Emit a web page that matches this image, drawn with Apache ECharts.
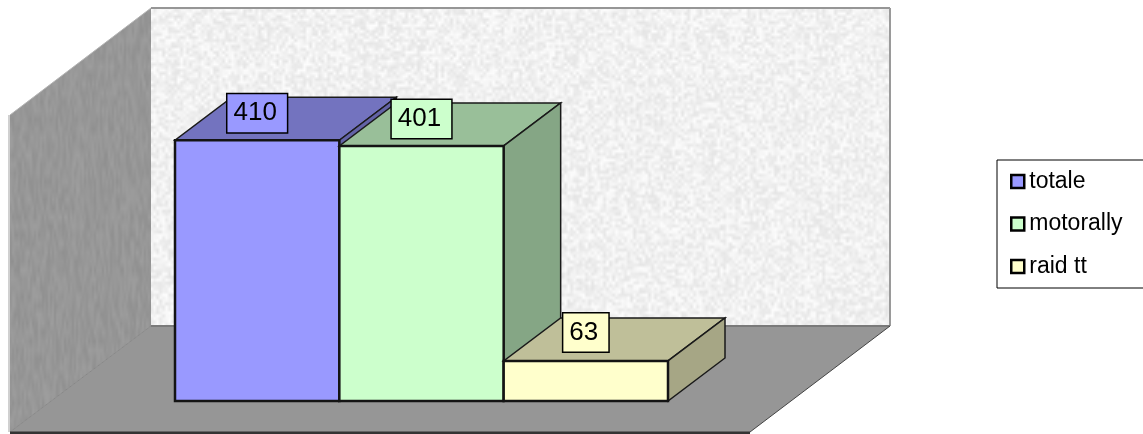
<!DOCTYPE html>
<html>
<head>
<meta charset="utf-8">
<title>totale motorally raid tt</title>
<script src="https://cdn.jsdelivr.net/npm/echarts@6/dist/echarts.min.js"></script>
<style>
html, body { margin: 0; padding: 0; background: #fff; overflow: hidden; }
#chart { width: 1143px; height: 434px; }
</style>
</head>
<body>
<div id="chart"></div>
<script>
var categories = ['totale', 'motorally', 'raid tt'];
var values = [410, 401, 63];
var axisMax = 500;

// front, top, side colour of each box
var frontColors = ['#9999FF', '#CCFFCC', '#FFFFCC'];
var topColors = ['#7373BF', '#99BF99', '#BFBF99'];
var sideColors = ['#6363A6', '#85A685', '#A6A685'];

// how far the back of a box sits from its front
var depthX = 57;
var depthY = -43;
var labelLift = [27, 27, 28.5];

// speckled wall texture, blocks of grey scaled up so they come out soft
function makeTexture(w, h, cellW, cellH, base, amp, seed) {
    var small = document.createElement('canvas');
    small.width = Math.ceil(w / cellW);
    small.height = Math.ceil(h / cellH);
    var c = small.getContext('2d');
    var s = seed;
    for (var y = 0; y < small.height; y++) {
        for (var x = 0; x < small.width; x++) {
            s = (s * 1103515245 + 12345) % 2147483648;
            var g = Math.round(base + ((s >> 8) % 1000) / 1000 * amp - amp / 2);
            c.fillStyle = 'rgb(' + g + ',' + g + ',' + g + ')';
            c.fillRect(x, y, 1, 1);
        }
    }
    var big = document.createElement('canvas');
    big.width = w;
    big.height = h;
    var b = big.getContext('2d');
    b.imageSmoothingEnabled = true;
    b.drawImage(small, 0, 0, w, h);
    return big;
}
// as big as the page, so the pattern never shows a seam
var backTexture = makeTexture(1143, 434, 3, 3, 241, 24, 7);
var leftTexture = makeTexture(1143, 434, 2, 9, 151, 14, 11);

function poly(points, fill, stroke, lineWidth) {
    return {
        type: 'polygon',
        shape: { points: points },
        style: { fill: fill, stroke: stroke, lineWidth: lineWidth, lineJoin: 'miter' }
    };
}
function line(x1, y1, x2, y2, color, width) {
    return {
        type: 'line',
        shape: { x1: x1, y1: y1, x2: x2, y2: y2 },
        style: { stroke: color, lineWidth: width }
    };
}

// walls and floor, hung off the grid so they follow the value scale
function renderRoom(params, api) {
    var base = api.coord([0, 0]);
    var top = api.coord([0, axisMax]);
    var halfW = api.size([1, 0])[0] / 2;
    var l = base[0] - halfW;
    var r = l + halfW * 6;
    var by = base[1];
    var ty = top[1];

    var fl = [l - 165, by + 31];
    var fr = [r + 82, by + 31];
    var bl = [l - 24, by - 75];
    var br = [r + 222, by - 75];
    var wallTop = ty - 75;
    var leftTop = ty + 32;

    return {
        type: 'group',
        children: [
            poly([[bl[0], wallTop], [br[0], wallTop], br, bl], { image: backTexture, repeat: 'repeat' }),
            poly([[fl[0], leftTop], [bl[0], wallTop], bl, fl], { image: leftTexture, repeat: 'repeat' }),
            poly([fl, fr, br, bl], '#969696'),
            line(bl[0], wallTop, br[0], wallTop, '#969696', 2),
            line(br[0], wallTop, br[0], br[1], '#9a9a9a', 2),
            line(bl[0], bl[1], br[0], br[1], '#7a7a7a', 2),
            line(fl[0] - 1, leftTop, fl[0] - 1, fl[1], '#d0d0d0', 2),
            line(fl[0], leftTop, bl[0], wallTop, '#b4b4b4', 1),
            line(fl[0], fl[1], bl[0], bl[1], '#888888', 1),
            line(fl[0], fl[1] + 1, fr[0], fr[1] + 1, '#333333', 3),
            line(fr[0], fr[1], br[0], br[1], '#444444', 1)
        ]
    };
}

function renderBox(params, api) {
    var i = api.value(0);
    var v = api.value(1);
    var width = api.size([1, 0])[0];
    var p = api.coord([i, v]);
    var b = api.coord([i, 0]);
    var x0 = p[0] - width / 2;
    var x1 = p[0] + width / 2;
    var y0 = p[1];
    var y1 = b[1];

    return {
        type: 'group',
        children: [
            poly([[x0, y0], [x1, y0], [x1 + depthX, y0 + depthY], [x0 + depthX, y0 + depthY]], topColors[i], '#1a1a1a', 1.5),
            poly([[x1, y0], [x1 + depthX, y0 + depthY], [x1 + depthX, y1 + depthY], [x1, y1]], sideColors[i], '#1a1a1a', 1.5),
            poly([[x0, y0], [x1, y0], [x1, y1], [x0, y1]], frontColors[i], '#141414', 2.5),
            {
                type: 'text',
                style: {
                    text: String(v),
                    x: p[0],
                    y: y0 - labelLift[i],
                    align: 'center',
                    verticalAlign: 'middle',
                    font: '26px "Liberation Sans", Arial, sans-serif',
                    fill: '#000000',
                    backgroundColor: frontColors[i],
                    borderColor: '#000000',
                    borderWidth: 1.5,
                    lineHeight: 26,
                    padding: [9, 10, 3, 6]
                }
            }
        ]
    };
}

var series = [{
    type: 'custom',
    silent: true,
    clip: false,
    renderItem: renderRoom,
    data: [[0, 0]]
}];
categories.forEach(function (name, i) {
    series.push({
        name: name,
        type: 'custom',
        clip: false,
        silent: true,
        renderItem: renderBox,
        itemStyle: { color: frontColors[i] },
        data: [[i, values[i]]]
    });
});

var myChart = echarts.init(document.getElementById('chart'), null, { renderer: 'canvas' });
var option = {
    animation: false,
    backgroundColor: '#ffffff',
    grid: { left: 175, top: 83, width: 493, height: 318 },
    xAxis: { type: 'category', data: categories, show: false },
    yAxis: { type: 'value', min: 0, max: axisMax, show: false },
    legend: {
        orient: 'vertical',
        left: 997,
        top: 160,
        data: categories,
        icon: 'rect',
        itemWidth: 13,
        itemHeight: 13,
        itemGap: 19.5,
        padding: [10, 24, 10, 13],
        backgroundColor: '#ffffff',
        borderColor: '#000000',
        borderWidth: 1,
        itemStyle: { borderColor: '#000000', borderWidth: 2.5 },
        textStyle: {
            color: '#000000',
            fontFamily: '"Liberation Sans", Arial, sans-serif',
            fontSize: 23,
            lineHeight: 23
        }
    },
    series: series
};
myChart.setOption(option);
</script>
</body>
</html>
